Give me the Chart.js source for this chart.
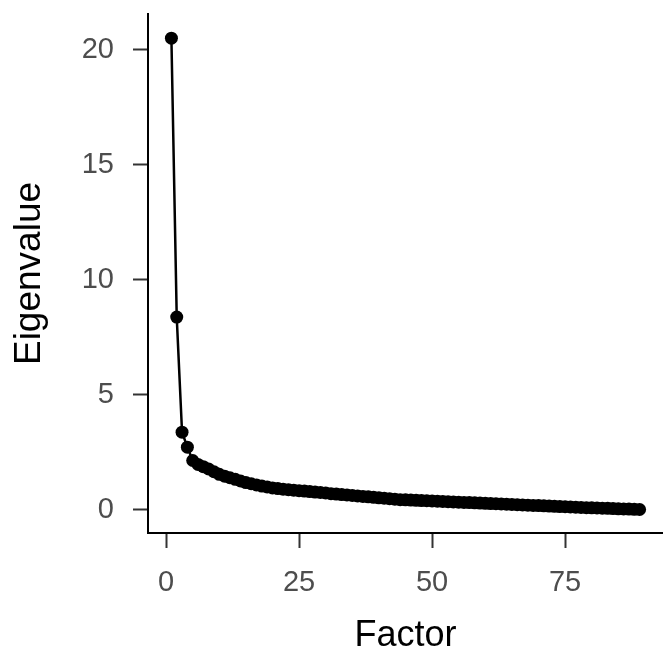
<!DOCTYPE html>
<html>
<head>
<meta charset="utf-8">
<script src="https://cdn.jsdelivr.net/npm/chart.js@4/dist/chart.umd.min.js"></script>
<style>
  html, body { margin: 0; padding: 0; background: #fff; }
  #wrap { width: 663px; height: 658px; position: relative; }
</style>
</head>
<body>
<div id="wrap"><canvas id="scree"></canvas></div>
<script>
// Eigenvalues, factor 1..89
const eigenvalues = [
    20.5, 8.38, 3.38, 2.73, 2.15, 1.98, 1.88, 1.78, 1.66, 1.55,
    1.47, 1.40, 1.33, 1.26, 1.19, 1.14, 1.09, 1.04, 1.00, 0.96,
    0.93, 0.90, 0.88, 0.86, 0.84, 0.82, 0.80, 0.78, 0.76, 0.74,
    0.71, 0.69, 0.67, 0.65, 0.63, 0.61, 0.59, 0.57, 0.55, 0.53,
    0.51, 0.49, 0.47, 0.45, 0.44, 0.43, 0.42, 0.41, 0.40, 0.39,
    0.38, 0.37, 0.36, 0.35, 0.34, 0.33, 0.32, 0.31, 0.30, 0.29,
    0.28, 0.27, 0.26, 0.25, 0.24, 0.23, 0.22, 0.21, 0.20, 0.19,
    0.18, 0.17, 0.16, 0.15, 0.14, 0.13, 0.12, 0.11, 0.10, 0.095,
    0.09, 0.08, 0.07, 0.06, 0.05, 0.045, 0.04, 0.03, 0.02
];
const factors = eigenvalues.map((_, i) => i + 1);

const xTicks = [0, 25, 50, 75];
const yTicks = [0, 5, 10, 15, 20];

const xTitle = 'Factor';
const yTitle = 'Eigenvalue';

const FONT = '"Liberation Sans", Arial, sans-serif';

// the plot runs right up to the canvas edge, so don't reserve room for the end point
Chart.registry.getController('line').prototype.getMaxOverflow = function () { return 0; };

const ctx = document.getElementById('scree').getContext('2d');

const screeChart = new Chart(ctx, {
    type: 'line',
    data: {
        datasets: [{
            label: yTitle,
            data: factors.map((f, i) => ({ x: f, y: eigenvalues[i] })),
            borderColor: '#000',
            borderWidth: 2.5,
            backgroundColor: '#000',
            pointBackgroundColor: '#000',
            pointBorderWidth: 0,
            pointRadius: 6.5,
            tension: 0,
            fill: false,
            clip: false
        }]
    },
    options: {
        responsive: true,
        maintainAspectRatio: false,
        animation: false,
        layout: { padding: { top: 14, right: 0, left: 0, bottom: 0 } },
        plugins: {
            legend: { display: false },
            tooltip: { enabled: false }
        },
        scales: {
            x: {
                type: 'linear',
                min: -3.4,
                max: 93.4,
                afterBuildTicks: (s) => { s.ticks = xTicks.map(v => ({ value: v })); },
                afterFit: (s) => { s.height = 125; s.paddingLeft = 0; s.paddingRight = 0; },
                border: { display: true, color: '#000', width: 2 },
                grid: { drawOnChartArea: false, drawTicks: true, tickLength: 15, tickColor: '#333', tickWidth: 2 },
                ticks: { color: '#4d4d4d', padding: 18, maxRotation: 0, font: { family: FONT, size: 29 } },
                title: { display: true, text: xTitle, color: '#000', padding: { top: 0, bottom: 0 }, font: { family: FONT, size: 36 } }
            },
            y: {
                type: 'linear',
                min: -1.0,
                max: 21.55,
                afterBuildTicks: (s) => { s.ticks = yTicks.map(v => ({ value: v })); },
                afterFit: (s) => { s.width = 148; s.paddingTop = 0; s.paddingBottom = 0; },
                border: { display: true, color: '#000', width: 2 },
                grid: { drawOnChartArea: false, drawTicks: true, tickLength: 15, tickColor: '#333', tickWidth: 2 },
                ticks: { color: '#4d4d4d', padding: 19, font: { family: FONT, size: 29 } },
                title: { display: true, text: yTitle, color: '#000', padding: { top: 8, bottom: 0 }, font: { family: FONT, size: 37 } }
            }
        }
    }
});
</script>
</body>
</html>
